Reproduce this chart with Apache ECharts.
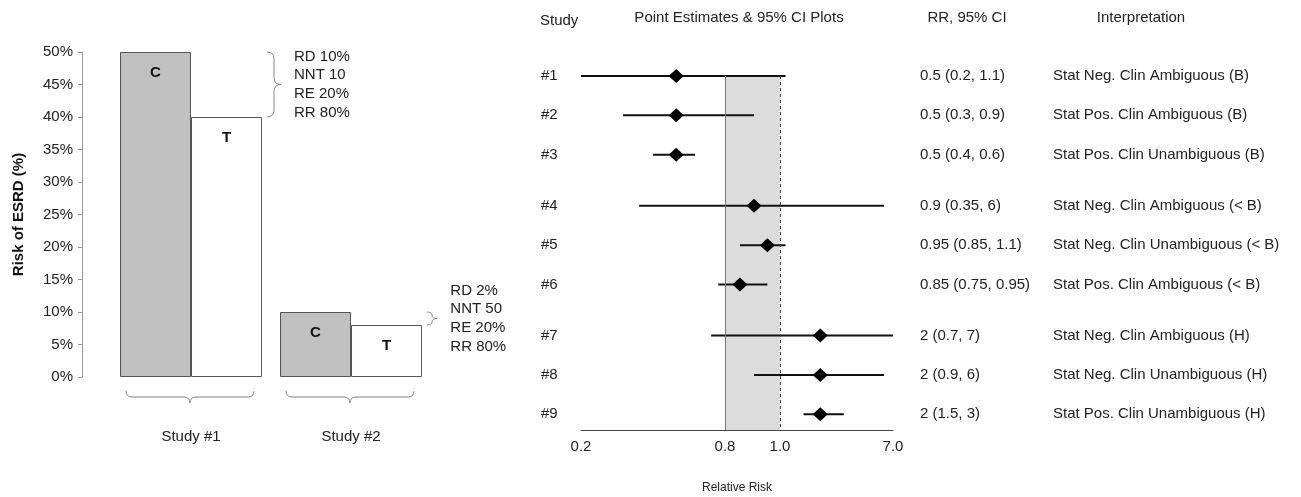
<!DOCTYPE html>
<html>
<head>
<meta charset="utf-8">
<script src="https://cdn.jsdelivr.net/npm/echarts@6/dist/echarts.min.js"></script>
<style>
html,body{margin:0;padding:0;background:#fff;}
#chart{width:1301px;height:497px;}
</style>
</head>
<body>
<div id="chart"></div>
<script>
// ---------- DATA ----------
const studyCategories = ['Study #1', 'Study #2'];
const controlRisk = [50, 10];     // % risk of ESRD, control arm (C)
const treatedRisk = [40, 8];      // % risk of ESRD, treated arm (T)
const armLabels = ['C', 'T'];
const effectNotes = [
  ['RD 10%', 'NNT 10', 'RE 20%', 'RR 80%'],
  ['RD 2%', 'NNT 50', 'RE 20%', 'RR 80%']
];

const forestStudies = ['#1', '#2', '#3', '#4', '#5', '#6', '#7', '#8', '#9'];
const rrEst  = [0.5, 0.5, 0.5, 0.9, 0.95, 0.85, 2, 2, 2];
const rrLow  = [0.2, 0.3, 0.4, 0.35, 0.85, 0.75, 0.7, 0.9, 1.5];
const rrHigh = [1.1, 0.9, 0.6, 6, 1.1, 0.95, 7, 6, 3];
const interpretations = [
  'Stat Neg. Clin Ambiguous (B)',
  'Stat Pos. Clin Ambiguous (B)',
  'Stat Pos. Clin Unambiguous (B)',
  'Stat Neg. Clin Ambiguous (< B)',
  'Stat Neg. Clin Unambiguous (< B)',
  'Stat Pos. Clin Ambiguous (< B)',
  'Stat Neg. Clin Ambiguous (H)',
  'Stat Neg. Clin Unambiguous (H)',
  'Stat Pos. Clin Unambiguous (H)'
];
const rrTickLabels = [0.2, 0.8, 1.0, 7.0];
const bandRange = [0.8, 1.0];
const nullLine = 1.0;
const headers = ['Study', 'Point Estimates & 95% CI Plots', 'RR, 95% CI', 'Interpretation'];

// ---------- LAYOUT (not data) ----------
// Schematic RR axis: tick positions along the axis (the original axis is non-uniform)
const TICK_POS = [0, 144, 199, 312];
function rrToPos(v) {
  const n = rrTickLabels.length;
  for (let i = 0; i < n - 1; i++) {
    const a = rrTickLabels[i], b = rrTickLabels[i + 1];
    if (v <= b || i === n - 2) {
      const t = Math.log(v / a) / Math.log(b / a);
      return TICK_POS[i] + t * (TICK_POS[i + 1] - TICK_POS[i]);
    }
  }
}
const GROUP_GAP = 0.3;
function rowPos(i) { return i + Math.floor(i / 3) * GROUP_GAP; }

const BAR_W = 71;
const TXT = '#222';
const FONT = 'Liberation Sans, Arial, sans-serif';

function vBrace(x, y1, y2, w) {
  const ym = (y1 + y2) / 2, h = y2 - y1, r = Math.min(w / 2, h / 4), xm = x + w / 2;
  return `M${x},${y1} Q${xm},${y1} ${xm},${y1 + r} L${xm},${ym - r} Q${xm},${ym} ${x + w},${ym} ` +
         `Q${xm},${ym} ${xm},${ym + r} L${xm},${y2 - r} Q${xm},${y2} ${x},${y2}`;
}
function hBrace(x1, x2, y, d) {
  const ym = y + d / 2, xm = (x1 + x2) / 2, r = Math.min(d / 2, (x2 - x1) / 4);
  return `M${x1},${y} Q${x1},${ym} ${x1 + r},${ym} L${xm - r},${ym} Q${xm},${ym} ${xm},${y + d} ` +
         `Q${xm},${ym} ${xm + r},${ym} L${x2 - r},${ym} Q${x2},${ym} ${x2},${y}`;
}

const chart = echarts.init(document.getElementById('chart'), null, {renderer: 'canvas'});

const barLabel = (txt) => ({
  show: true, position: 'insideTop', distance: 13, formatter: txt,
  fontWeight: 'bold', fontSize: 15, color: '#111', fontFamily: FONT
});

const option = {
  backgroundColor: '#fff',
  animation: false,
  textStyle: {fontFamily: FONT},
  grid: [
    {left: 111, right: 870, top: 52, bottom: 120, outerBoundsMode: 'none', containLabel: false},
    {left: 581, right: 408, top: 76, bottom: 67, outerBoundsMode: 'none', containLabel: false}
  ],
  xAxis: [
    {
      type: 'category', gridIndex: 0, data: studyCategories,
      axisLine: {show: false}, axisTick: {show: false},
      axisLabel: {margin: 52, fontSize: 15, color: TXT, fontFamily: FONT}
    },
    {
      type: 'value', gridIndex: 1, position: 'bottom',
      min: TICK_POS[0], max: TICK_POS[TICK_POS.length - 1],
      axisLine: {show: true, onZero: false, lineStyle: {color: '#444', width: 1}},
      axisTick: {show: false},
      splitLine: {show: false},
      axisLabel: {
        customValues: TICK_POS, margin: 9, fontSize: 15, color: TXT, fontFamily: FONT,
        formatter: (v) => {
          const i = TICK_POS.findIndex(p => Math.abs(p - v) < 1e-6);
          return i >= 0 ? rrTickLabels[i].toFixed(1) : '';
        }
      },
      name: 'Relative Risk', nameLocation: 'middle', nameGap: 52,
      nameTextStyle: {fontSize: 12, color: TXT, fontFamily: FONT}
    }
  ],
  yAxis: [
    {
      type: 'value', gridIndex: 0, min: 0, max: 50, interval: 5, offset: 29,
      axisLine: {show: true, lineStyle: {color: '#999'}},
      axisTick: {show: true, length: 4, lineStyle: {color: '#999'}},
      splitLine: {show: false},
      axisLabel: {formatter: '{value}%', margin: 9, fontSize: 15, color: TXT, fontFamily: FONT},
      name: 'Risk of ESRD (%)', nameLocation: 'middle', nameGap: 56,
      nameTextStyle: {fontSize: 15, fontWeight: 'bold', color: '#111', fontFamily: FONT}
    },
    {
      type: 'value', gridIndex: 1, min: 0, max: 9, inverse: true, show: false
    }
  ],
  graphic: [
    {type: 'text', x: 540, y: 21, style: {text: headers[0], fontSize: 15, fill: TXT, fontFamily: FONT, align: 'left', verticalAlign: 'middle'}},
    {type: 'text', x: 739, y: 18, style: {text: headers[1], fontSize: 15, fill: TXT, fontFamily: FONT, align: 'center', verticalAlign: 'middle'}},
    {type: 'text', x: 967, y: 18, style: {text: headers[2], fontSize: 15, fill: TXT, fontFamily: FONT, align: 'center', verticalAlign: 'middle'}},
    {type: 'text', x: 1141, y: 18, style: {text: headers[3], fontSize: 15, fill: TXT, fontFamily: FONT, align: 'center', verticalAlign: 'middle'}}
  ],
  series: [
    {
      name: 'C', type: 'bar', xAxisIndex: 0, yAxisIndex: 0, data: controlRisk,
      barWidth: BAR_W, barGap: '0%',
      itemStyle: {color: '#c0c0c0', borderColor: '#555', borderWidth: 1},
      label: barLabel(armLabels[0])
    },
    {
      name: 'T', type: 'bar', xAxisIndex: 0, yAxisIndex: 0, data: treatedRisk,
      barWidth: BAR_W, barGap: '0%',
      itemStyle: {color: '#ffffff', borderColor: '#555', borderWidth: 1},
      label: barLabel(armLabels[1])
    },
    {
      // braces + effect annotations
      type: 'custom', xAxisIndex: 0, yAxisIndex: 0, silent: true, z: 5,
      data: studyCategories.map((c, i) => [i, controlRisk[i], treatedRisk[i]]),
      encode: {x: 0, y: [1, 2]},
      renderItem: (params, api) => {
        const i = params.dataIndex;
        const cx = api.coord([api.value(0), 0])[0];
        const y0 = api.coord([api.value(0), 0])[1];
        const yTop = api.coord([api.value(0), api.value(1)])[1];
        const yBot = api.coord([api.value(0), api.value(2)])[1];
        const h = yBot - yTop;
        const w = Math.min(14, 6 + h / 3);
        const bx = cx + BAR_W + 5;
        return {
          type: 'group',
          children: [
            {type: 'path', shape: {pathData: vBrace(bx, yTop, yBot, w)},
             style: {fill: 'none', stroke: '#888', lineWidth: 1}},
            {type: 'path', shape: {pathData: hBrace(cx - BAR_W + 6, cx + BAR_W - 8, y0 + 14, 12)},
             style: {fill: 'none', stroke: '#888', lineWidth: 1}},
            {type: 'text', x: bx + w + 13, y: (yTop + yBot) / 2,
             style: {text: effectNotes[i].join('\n'), fontSize: 15, lineHeight: 18.7,
                     fill: TXT, fontFamily: FONT, verticalAlign: 'middle', align: 'left'}}
          ]
        };
      }
    },
    {
      // shaded band 0.8 - 1.0 and reference lines
      type: 'scatter', xAxisIndex: 1, yAxisIndex: 1, data: [], z: 1, silent: true,
      markArea: {
        silent: true,
        itemStyle: {color: '#dcdcdc'},
        data: [[{xAxis: rrToPos(bandRange[0]), yAxis: 0}, {xAxis: rrToPos(bandRange[1]), yAxis: 9}]]
      },
      markLine: {
        silent: true, symbol: 'none', label: {show: false}, animation: false,
        data: [
          {xAxis: rrToPos(bandRange[0]), lineStyle: {color: '#777', type: 'solid', width: 1}},
          {xAxis: rrToPos(nullLine), lineStyle: {color: '#444', type: [3, 3], width: 1}}
        ]
      }
    },
    {
      // confidence intervals
      type: 'custom', xAxisIndex: 1, yAxisIndex: 1, silent: true, z: 3,
      data: rrEst.map((e, i) => [rowPos(i), rrToPos(rrLow[i]), rrToPos(rrHigh[i])]),
      encode: {y: 0, x: [1, 2]},
      renderItem: (params, api) => {
        const p1 = api.coord([api.value(1), api.value(0)]);
        const p2 = api.coord([api.value(2), api.value(0)]);
        return {type: 'line', shape: {x1: p1[0], y1: p1[1], x2: p2[0], y2: p2[1]},
                style: {stroke: '#111', lineWidth: 2}};
      }
    },
    {
      // point estimates
      type: 'scatter', xAxisIndex: 1, yAxisIndex: 1, z: 4, silent: true,
      symbol: 'diamond', symbolSize: [15, 14],
      itemStyle: {color: '#000', opacity: 1},
      data: rrEst.map((e, i) => [rrToPos(e), rowPos(i)])
    },
    {
      // row texts: study id, RR (CI), interpretation
      type: 'custom', xAxisIndex: 1, yAxisIndex: 1, silent: true, z: 5,
      data: forestStudies.map((s, i) => [TICK_POS[0], rowPos(i)]),
      encode: {x: 0, y: 1},
      renderItem: (params, api) => {
        const i = params.dataIndex;
        const y = api.coord([api.value(0), api.value(1)])[1];
        const st = (t, x) => ({type: 'text', x: x, y: y,
          style: {text: t, fontSize: 15, fill: TXT, fontFamily: FONT, align: 'left', verticalAlign: 'middle'}});
        return {
          type: 'group',
          children: [
            st(forestStudies[i], 541),
            st(`${rrEst[i]} (${rrLow[i]}, ${rrHigh[i]})`, 920),
            st(interpretations[i], 1053)
          ]
        };
      }
    }
  ]
};

chart.setOption(option);
</script>
</body>
</html>
